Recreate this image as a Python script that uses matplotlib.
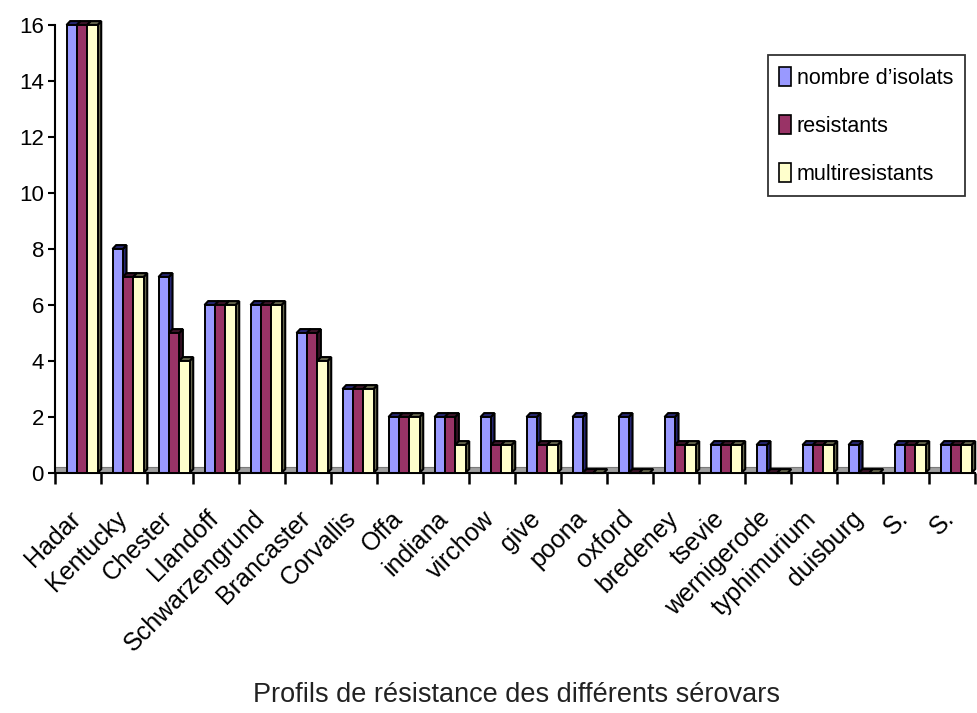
import matplotlib
matplotlib.use('Agg')
from matplotlib import pyplot as plt
from matplotlib.patches import Polygon, Rectangle
from matplotlib.transforms import ScaledTranslation
import numpy as np

plt.rcParams['font.family'] = ['Liberation Sans', 'DejaVu Sans']

serovars = ['Hadar', 'Kentucky', 'Chester', 'Llandoff', 'Schwarzengrund', 'Brancaster',
            'Corvallis', 'Offa', 'indiana', 'virchow', 'give', 'poona', 'oxford',
            'bredeney', 'tsevie', 'wernigerode', 'typhimurium', 'duisburg', 'S.', 'S.']
nombre = [16, 8, 7, 6, 6, 5, 3, 2, 2, 2, 2, 2, 2, 2, 1, 1, 1, 1, 1, 1]
resistants = [16, 7, 5, 6, 6, 5, 3, 2, 2, 1, 1, 0, 0, 1, 1, 0, 1, 0, 1, 1]
multires = [16, 7, 4, 6, 6, 4, 3, 2, 1, 1, 1, 0, 0, 1, 1, 0, 1, 0, 1, 1]

series = [nombre, resistants, multires]
names = ['nombre d\u2019isolats', 'resistants', 'multiresistants']
colors = ['#9999ff', '#993366', '#ffffcc']
dark = ['#262673', '#3d1429', '#66664d']

fig = plt.figure(figsize=(9.78, 7.13), dpi=100)
ax = fig.add_axes([55/978, 1 - 473/713, 920/978, 448/713])

n = len(serovars)
w = 0.225
off = 0.25
dx, dy = 0.08, 0.14

# floor of the 3D chart
ax.add_patch(Rectangle((0, 0), n, 0.2, facecolor='#a0a0a0', edgecolor='#7a7a7a',
                       lw=0.8, zorder=1))

for i in range(n):
    for j, s in enumerate(series):
        x = i + off + j * w
        h = s[i]
        side = Polygon([(x + w, 0), (x + w + dx, dy), (x + w + dx, h + dy), (x + w, h)],
                       closed=True, facecolor=dark[j], edgecolor='black', lw=1.5,
                       zorder=2 + j, clip_on=False)
        top = Polygon([(x, h), (x + w, h), (x + w + dx, h + dy), (x + dx, h + dy)],
                      closed=True, facecolor=dark[j], edgecolor='black', lw=1.5,
                      zorder=2 + j, clip_on=False)
        ax.add_patch(side)
        ax.add_patch(top)
        if h > 0:
            ax.bar(x, h, w, align='edge', color=colors[j], edgecolor='black',
                   lw=1.4, zorder=2 + j, clip_on=False)

ax.set_xlim(0, n)
ax.set_ylim(0, 16)
ax.set_yticks(range(0, 17, 2))
ax.tick_params(axis='y', labelsize=16, length=5, width=1.5, pad=3, colors='black')
ax.set_xticks(range(0, n + 1))
ax.set_xticklabels([])
ax.tick_params(axis='x', which='major', length=8, width=1.8, direction='out')
ax.set_xticks(np.arange(n) + 0.5, serovars, minor=True)
ax.tick_params(axis='x', which='minor', length=0, pad=24, labelsize=18)
for lbl in ax.get_xticklabels(minor=True):
    lbl.set_rotation(45)
    lbl.set_ha('right')
    lbl.set_va('top')
    lbl.set_rotation_mode('anchor')
    lbl.set_transform(lbl.get_transform() + ScaledTranslation(-7/72, 0, fig.dpi_scale_trans))

for sp in ['top', 'right']:
    ax.spines[sp].set_visible(False)
ax.spines['left'].set_linewidth(1.5)
ax.spines['bottom'].set_linewidth(1.5)

handles = [Rectangle((0, 0), 1, 1, facecolor=c, edgecolor='black', lw=1.2) for c in colors]
leg = ax.legend(handles, names, loc='upper right', bbox_to_anchor=(0.989, 0.933),
                fontsize=15.5, frameon=True, fancybox=False, edgecolor='black',
                handlelength=0.55, handleheight=1.0, handletextpad=0.25,
                labelspacing=1.2, borderpad=0.55, borderaxespad=0)
leg.get_frame().set_linewidth(1.3)

fig.text(517/978, 1 - 695/713, 'Profils de r\u00e9sistance des diff\u00e9rents s\u00e9rovars',
         ha='center', va='center', fontsize=19.5, color='#222222')

fig.savefig('out.png', dpi=100)
